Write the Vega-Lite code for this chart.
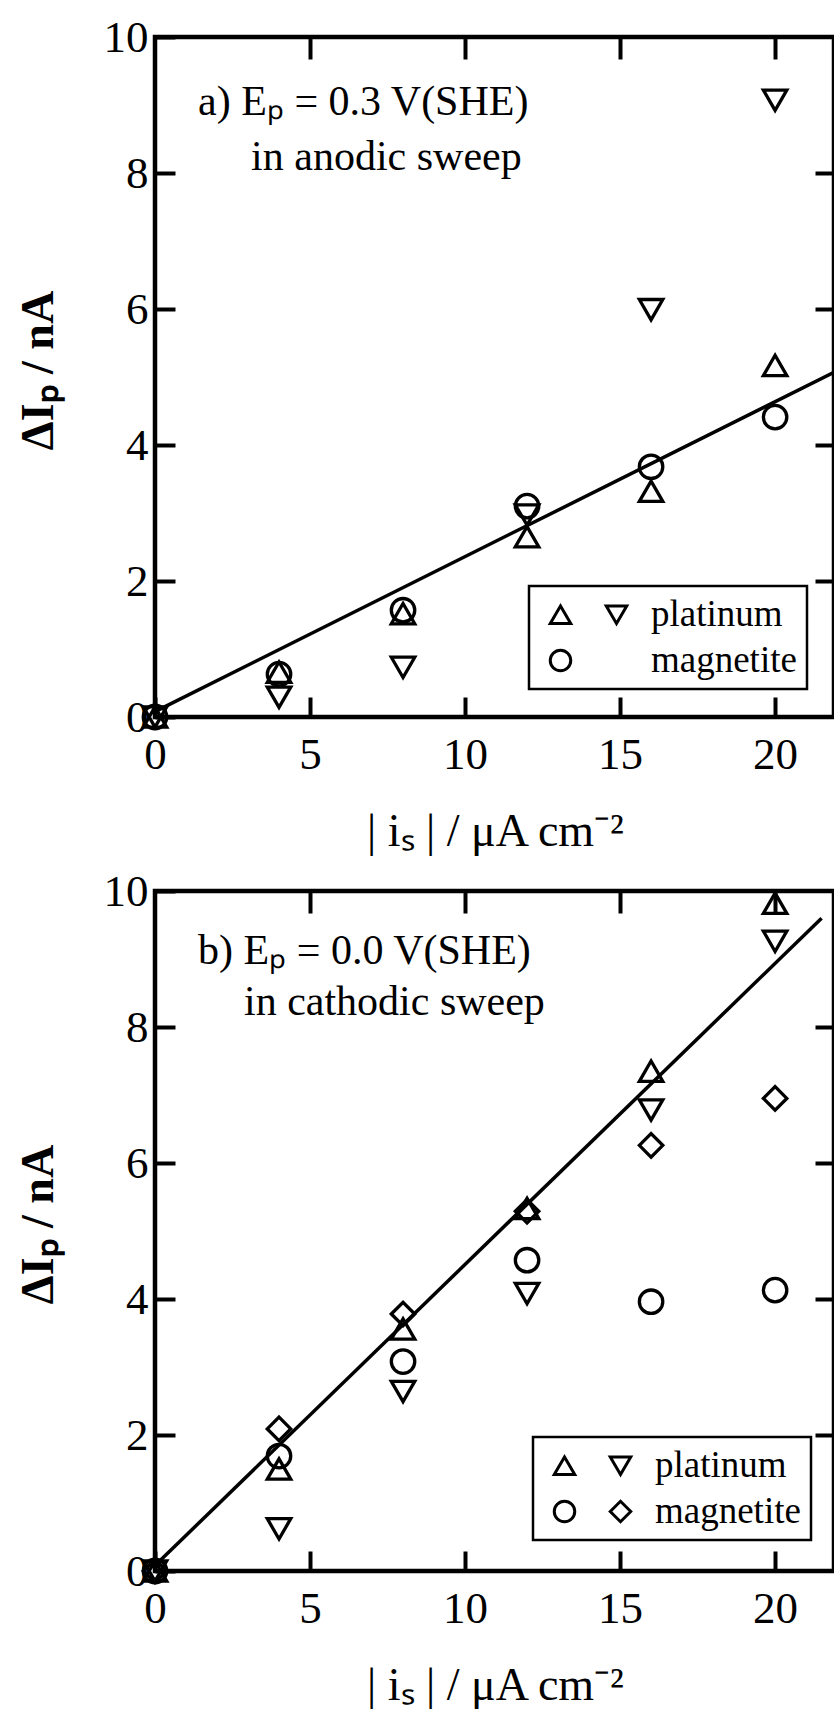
{
  "$schema": "https://vega.github.io/schema/vega-lite/v6.json",
  "background": "white",
  "padding": {"left": 12, "top": 12, "right": 0, "bottom": 0},
  "bounds": "flush",
  "spacing": 174,
  "config": {
    "font": "Liberation Serif",
    "view": {"stroke": "black", "strokeWidth": 4.5},
    "axis": {
      "grid": false,
      "domain": false,
      "tickColor": "black",
      "tickWidth": 4,
      "labelColor": "black",
      "labelFont": "Liberation Serif",
      "labelFontSize": 45,
      "labelFlush": false,
      "labelOverlap": false,
      "titleColor": "black",
      "titleFont": "Liberation Serif",
      "titleFontSize": 46,
      "titleFontWeight": "normal"
    },
    "legend": {"strokeWidth": 2.5}
  },
  "datasets": {
    "points_a": [
      {"i_s": 0, "dI_p": 0, "series": "platinum 1"},
      {"i_s": 4, "dI_p": 0.66, "series": "platinum 1"},
      {"i_s": 8, "dI_p": 1.52, "series": "platinum 1"},
      {"i_s": 12, "dI_p": 2.65, "series": "platinum 1"},
      {"i_s": 16, "dI_p": 3.32, "series": "platinum 1"},
      {"i_s": 20, "dI_p": 5.17, "series": "platinum 1"},
      {"i_s": 0, "dI_p": 0, "series": "platinum 2"},
      {"i_s": 4, "dI_p": 0.29, "series": "platinum 2"},
      {"i_s": 8, "dI_p": 0.73, "series": "platinum 2"},
      {"i_s": 12, "dI_p": 2.97, "series": "platinum 2"},
      {"i_s": 16, "dI_p": 5.99, "series": "platinum 2"},
      {"i_s": 20, "dI_p": 9.07, "series": "platinum 2"},
      {"i_s": 0, "dI_p": 0, "series": "magnetite 1"},
      {"i_s": 4, "dI_p": 0.63, "series": "magnetite 1"},
      {"i_s": 8, "dI_p": 1.57, "series": "magnetite 1"},
      {"i_s": 12, "dI_p": 3.1, "series": "magnetite 1"},
      {"i_s": 16, "dI_p": 3.68, "series": "magnetite 1"},
      {"i_s": 20, "dI_p": 4.41, "series": "magnetite 1"}
    ],
    "points_b": [
      {"i_s": 0, "dI_p": 0, "series": "platinum 1"},
      {"i_s": 4, "dI_p": 1.5, "series": "platinum 1"},
      {"i_s": 8, "dI_p": 3.56, "series": "platinum 1"},
      {"i_s": 12, "dI_p": 5.33, "series": "platinum 1"},
      {"i_s": 16, "dI_p": 7.35, "series": "platinum 1"},
      {"i_s": 20, "dI_p": 9.82, "series": "platinum 1"},
      {"i_s": 0, "dI_p": 0, "series": "platinum 2"},
      {"i_s": 4, "dI_p": 0.62, "series": "platinum 2"},
      {"i_s": 8, "dI_p": 2.64, "series": "platinum 2"},
      {"i_s": 12, "dI_p": 4.08, "series": "platinum 2"},
      {"i_s": 16, "dI_p": 6.78, "series": "platinum 2"},
      {"i_s": 20, "dI_p": 9.26, "series": "platinum 2"},
      {"i_s": 0, "dI_p": 0, "series": "magnetite 1"},
      {"i_s": 4, "dI_p": 1.69, "series": "magnetite 1"},
      {"i_s": 8, "dI_p": 3.08, "series": "magnetite 1"},
      {"i_s": 12, "dI_p": 4.57, "series": "magnetite 1"},
      {"i_s": 16, "dI_p": 3.96, "series": "magnetite 1"},
      {"i_s": 20, "dI_p": 4.13, "series": "magnetite 1"},
      {"i_s": 0, "dI_p": 0, "series": "magnetite 2"},
      {"i_s": 4, "dI_p": 2.09, "series": "magnetite 2"},
      {"i_s": 8, "dI_p": 3.78, "series": "magnetite 2"},
      {"i_s": 12, "dI_p": 5.29, "series": "magnetite 2"},
      {"i_s": 16, "dI_p": 6.26, "series": "magnetite 2"},
      {"i_s": 20, "dI_p": 6.95, "series": "magnetite 2"}
    ],
    "fit_a": [
      {"i_s": 0, "dI_p": 0.08},
      {"i_s": 21.9, "dI_p": 5.07}
    ],
    "fit_b": [
      {"i_s": 0, "dI_p": 0.08},
      {"i_s": 21.5, "dI_p": 9.6}
    ]
  },
  "vconcat": [
    {
      "width": 679,
      "height": 680,
      "resolve": {"axis": {"x": "independent", "y": "independent"}},
      "layer": [
        {
          "data": {"name": "points_a"},
          "mark": {"type": "point", "filled": false, "color": "black", "opacity": 1, "strokeWidth": 3.3, "size": 550},
          "encoding": {
            "x": {"field": "i_s", "type": "quantitative", "scale": {"domain": [0, 21.9], "nice": false, "zero": false},
              "axis": {"orient": "bottom", "values": [0, 5, 10, 15, 20], "tickSize": -20, "labelPadding": 35,
                "title": "| iₛ | / μA cm⁻²", "titleBaseline": "alphabetic", "titleAlign": "center", "titleX": 340, "titleY": 128}},
            "y": {"field": "dI_p", "type": "quantitative", "scale": {"domain": [0, 10], "nice": false},
              "axis": {"orient": "left", "values": [0, 2, 4, 6, 8, 10], "tickSize": -20, "labelPadding": 27,
                "title": "ΔIₚ / nA", "titleFont": "Liberation Serif", "titleFontWeight": "bold", "titleAngle": 270, "titleBaseline": "alphabetic", "titleAlign": "center", "titleX": -103, "titleY": 333}},
            "shape": {"field": "series", "type": "nominal",
              "scale": {"domain": ["platinum 1", "magnetite 1", "platinum 2", "magnetite 2"], "range": ["triangle-up", "circle", "triangle-down", "M0,0Z"]},
              "legend": {"title": null, "orient": "none", "legendX": 374, "legendY": 549, "columns": 2,
                "labelExpr": "datum.label == 'platinum 2' ? 'platinum' : datum.label == 'magnetite 2' ? 'magnetite' : ''",
                "symbolSize": 420, "symbolStrokeWidth": 3, "symbolStrokeColor": "black", "symbolFillColor": "transparent",
                "symbolOffset": 3, "labelOffset": 16, "columnPadding": -1, "rowPadding": 8, "padding": 10,
                "labelFontSize": 37, "labelFont": "Liberation Serif", "labelColor": "black", "labelLimit": 0,
                "strokeColor": "black", "fillColor": "white"}}
          }
        },
        {
          "data": {"name": "fit_a"},
          "mark": {"type": "line", "color": "black", "strokeWidth": 3.5},
          "encoding": {
            "x": {"field": "i_s", "type": "quantitative", "scale": {"domain": [0, 21.9], "nice": false, "zero": false},
              "axis": {"orient": "top", "values": [5, 10, 15, 20], "tickSize": -22, "labels": false, "title": null}},
            "y": {"field": "dI_p", "type": "quantitative", "scale": {"domain": [0, 10], "nice": false},
              "axis": {"orient": "right", "values": [2, 4, 6, 8], "tickSize": -19, "labels": false, "title": null}}
          }
        },
        {
          "data": {"values": [{}]},
          "mark": {"type": "text", "text": "a) Eₚ = 0.3 V(SHE)", "align": "left", "baseline": "alphabetic", "fontSize": 42, "font": "Liberation Serif", "color": "black"},
          "encoding": {
            "x": {"datum": 1.39, "type": "quantitative", "axis": null},
            "y": {"datum": 8.85, "type": "quantitative", "axis": null}
          }
        },
        {
          "data": {"values": [{}]},
          "mark": {"type": "text", "text": "in anodic sweep", "align": "left", "baseline": "alphabetic", "fontSize": 42, "font": "Liberation Serif", "color": "black"},
          "encoding": {
            "x": {"datum": 3.1, "type": "quantitative", "axis": null},
            "y": {"datum": 8.05, "type": "quantitative", "axis": null}
          }
        }
      ]
    },
    {
      "width": 679,
      "height": 680,
      "resolve": {"axis": {"x": "independent", "y": "independent"}},
      "layer": [
        {
          "data": {"name": "points_b"},
          "mark": {"type": "point", "filled": false, "color": "black", "opacity": 1, "strokeWidth": 3.3, "size": 550},
          "encoding": {
            "x": {"field": "i_s", "type": "quantitative", "scale": {"domain": [0, 21.9], "nice": false, "zero": false},
              "axis": {"orient": "bottom", "values": [0, 5, 10, 15, 20], "tickSize": -20, "labelPadding": 35,
                "title": "| iₛ | / μA cm⁻²", "titleBaseline": "alphabetic", "titleAlign": "center", "titleX": 340, "titleY": 128}},
            "y": {"field": "dI_p", "type": "quantitative", "scale": {"domain": [0, 10], "nice": false},
              "axis": {"orient": "left", "values": [0, 2, 4, 6, 8, 10], "tickSize": -20, "labelPadding": 27,
                "title": "ΔIₚ / nA", "titleFont": "Liberation Serif", "titleFontWeight": "bold", "titleAngle": 270, "titleBaseline": "alphabetic", "titleAlign": "center", "titleX": -103, "titleY": 333}},
            "shape": {"field": "series", "type": "nominal",
              "scale": {"domain": ["platinum 1", "magnetite 1", "platinum 2", "magnetite 2"], "range": ["triangle-up", "circle", "triangle-down", "diamond"]},
              "legend": {"title": null, "orient": "none", "legendX": 378, "legendY": 546, "columns": 2,
                "labelExpr": "datum.label == 'platinum 2' ? 'platinum' : datum.label == 'magnetite 2' ? 'magnetite' : ''",
                "symbolSize": 420, "symbolStrokeWidth": 3, "symbolStrokeColor": "black", "symbolFillColor": "transparent",
                "symbolOffset": 3, "labelOffset": 16, "columnPadding": -1, "rowPadding": 8, "padding": 10,
                "labelFontSize": 37, "labelFont": "Liberation Serif", "labelColor": "black", "labelLimit": 0,
                "strokeColor": "black", "fillColor": "white"}}
          }
        },
        {
          "data": {"name": "fit_b"},
          "mark": {"type": "line", "color": "black", "strokeWidth": 3.5},
          "encoding": {
            "x": {"field": "i_s", "type": "quantitative", "scale": {"domain": [0, 21.9], "nice": false, "zero": false},
              "axis": {"orient": "top", "values": [5, 10, 15, 20], "tickSize": -22, "labels": false, "title": null}},
            "y": {"field": "dI_p", "type": "quantitative", "scale": {"domain": [0, 10], "nice": false},
              "axis": {"orient": "right", "values": [2, 4, 6, 8], "tickSize": -19, "labels": false, "title": null}}
          }
        },
        {
          "data": {"values": [{}]},
          "mark": {"type": "text", "text": "b) Eₚ = 0.0 V(SHE)", "align": "left", "baseline": "alphabetic", "fontSize": 42, "font": "Liberation Serif", "color": "black"},
          "encoding": {
            "x": {"datum": 1.39, "type": "quantitative", "axis": null},
            "y": {"datum": 8.92, "type": "quantitative", "axis": null}
          }
        },
        {
          "data": {"values": [{}]},
          "mark": {"type": "text", "text": "in cathodic sweep", "align": "left", "baseline": "alphabetic", "fontSize": 42, "font": "Liberation Serif", "color": "black"},
          "encoding": {
            "x": {"datum": 2.87, "type": "quantitative", "axis": null},
            "y": {"datum": 8.18, "type": "quantitative", "axis": null}
          }
        }
      ]
    }
  ],
  "resolve": {"scale": {"shape": "independent"}, "legend": {"shape": "independent"}}
}
